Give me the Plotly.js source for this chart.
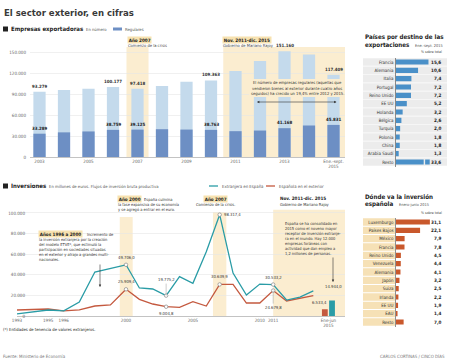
<!DOCTYPE html>
<html><head><meta charset="utf-8">
<script src="https://cdn.plot.ly/plotly-3.0.1.min.js"></script>
<style>html,body{margin:0;padding:0;background:#fff}#c{width:450px;height:363px}</style>
</head><body><div id="c"></div>
<script>
// ---------- Empresas exportadoras ----------
const empYears = ['2003','2004','2005','2006','2007','2008','2009','2010','2011','2012','2013','2014','Ene.-sept. 2015'];
const empTickText = ['2003','','2005','','2007','','2009','','2011','','2013','','Ene.-sept.<br>2015'];
const empTotal = [93279, 95700, 97600, 100177, 97418, 101400, 107400, 109363, 122700, 137000, 151160, 146400, 117409];
const empRegulares = [33289, 35200, 36500, 38759, 39125, 39700, 39200, 38763, 36900, 37800, 41168, 45000, 45831];
const empLabelIdx = [0, 3, 4, 7, 10, 12];

// ---------- Países por destino de las exportaciones ----------
const expCountries = ['Francia','Alemania','Italia','Portugal','Reino Unido','EE UU','Holanda','Bélgica','Turquía','Polonia','China','Arabia Saudí','Resto'];
const expShare = [15.6, 10.6, 7.4, 7.2, 7.2, 5.2, 3.2, 2.6, 2.0, 1.8, 1.8, 1.3, 33.6];
const expCap = 16.2;

// ---------- Dónde va la inversión española ----------
const invCountries = ['Luxemburgo','Países Bajos','México','Francia','Reino Unido','Venezuela','Alemania','Japón','Suiza','Irlanda','EE UU','EAU','Resto'];
const invShare = [31.1, 22.1, 7.9, 7.8, 4.5, 4.4, 4.1, 3.2, 2.5, 2.2, 1.9, 1.4, 7.0];

// ---------- Inversiones (millones de euros) ----------
const invYears = [1993,1994,1995,1996,1997,1998,1999,2000,2001,2002,2003,2004,2005,2006,2007,2008,2009,2010,2011,2012,2013,2014];
const extranjera = [2000, 3900, 5800, 5000, 13600, 42700, 46500, 49706.0, 27200, 26200, 19775.2, 38200, 31700, 62400, 98317.4, 41700, 20400, 31000, 30533.2, 15500, 18400, 24300];
const espanola   = [5800, 6300, 6800, 5000, 6000, 9700, 10700, 25909.4, 16200, 11650, 9004.8, 8400, 13900, 9700, 30639.9, 30600, 12600, 12600, 24679.8, 14600, 17400, 19800];
const invLabelYears = [2000, 2003, 2007, 2011];
const lastPeriod = 'Ene-jun 2015';
const lastExtranjera = 14944.0;
const lastEspanola = 6533.4;

// ---------- helpers ----------
const W = 450, H = 363;
const X = p => p / W, Y = p => 1 - p / H;
const FN = '"Liberation Sans Narrow","DejaVu Sans Condensed","Roboto Condensed","Arial Narrow",Arial,sans-serif';
const TEAL = '#2a9ca6', RED = '#c4593f', BEIGE = '#fbedd0';
const fmt = (v, dec) => {
  let s = dec ? v.toFixed(dec) : String(Math.round(v));
  let parts = s.split('.');
  let i = parts[0].replace(/\B(?=(\d{3})+(?!\d))/g, '.');
  return parts[1] ? i + ',' + parts[1] : i;
};
const ann = [], shp = [];
function T(text, x, y, o) {
  o = o || {};
  const a = {text: text, x: X(x), y: Y(y), xref: 'paper', yref: 'paper', xanchor: o.xa || 'left', yanchor: 'middle',
    showarrow: false, borderpad: 0, font: {family: FN, size: o.size || 4.3, color: o.color || '#333'}};
  if (o.bg) { a.bgcolor = o.bg; a.borderpad = 0.7; }
  ann.push(a);
}
function rect(x0, y0, x1, y1, fill, layer) {
  shp.push({type: 'rect', xref: 'paper', yref: 'paper', x0: X(x0), x1: X(x1), y0: Y(y1), y1: Y(y0),
    fillcolor: fill, line: {width: 0}, layer: layer || 'below'});
}

// ---------- titles ----------
T('<b>El sector exterior, en cifras</b>', 3, 12, {size: 9.5, color: '#3a3a3a'});
rect(3, 26.5, 8, 31.5, '#222', 'above');
T('<b>Empresas exportadoras</b>', 10, 29, {size: 6.0, color: '#222'});
T('En número', 85, 29.3, {size: 4.2, color: '#555'});
rect(113, 27.5, 122, 30.5, '#6d8fc4', 'above');
T('Regulares', 124, 29.3, {size: 4.2, color: '#555'});

rect(3, 183.5, 8, 188.5, '#222', 'above');
T('<b>Inversiones</b>', 10, 186, {size: 6.0, color: '#222'});
T('En millones de euros. Flujos de inversión bruta productiva', 48, 186.3, {size: 4.2, color: '#555'});
shp.push({type: 'line', xref: 'paper', yref: 'paper', x0: X(209), x1: X(218), y0: Y(186), y1: Y(186), line: {color: TEAL, width: 1.3}});
T('Extranjera en España', 221, 186.3, {size: 4.3, color: '#555'});
shp.push({type: 'line', xref: 'paper', yref: 'paper', x0: X(266), x1: X(275), y0: Y(186), y1: Y(186), line: {color: RED, width: 1.3}});
T('Española en el exterior', 278, 186.3, {size: 4.3, color: '#555'});

T('(*) Entidades de tenencia de valores extranjeros.', 2, 329, {size: 4.2, color: '#222'});
T('Fuente: Ministerio de Economía', 2, 356, {size: 4.4, color: '#777'});
T('CARLOS CORTINAS / CINCO DÍAS', 446, 356, {size: 4.4, color: '#777', xa: 'right'});

// ---------- top chart bands & notes ----------
shp.push({type: 'rect', xref: 'x', yref: 'y', x0: 3.55, x1: 4.45, y0: 0, y1: 157000, fillcolor: BEIGE, line: {width: 0}, layer: 'below'});
shp.push({type: 'rect', xref: 'x', yref: 'y', x0: 7.5, x1: 12.6, y0: 0, y1: 157000, fillcolor: BEIGE, line: {width: 0}, layer: 'below'});
T('<b>Año 2007</b>', 127, 39.5, {size: 4.6, bg: '#f7e2b0', color: '#222'});
T('Comienzo de la crisis', 127, 45, {size: 4.1, color: '#444'});
T('<b>Nov. 2011-dic. 2015</b>', 222, 39.5, {size: 4.6, bg: '#f7e2b0', color: '#222'});
T('Gobierno de Mariano Rajoy', 222, 45, {size: 4.1, color: '#444'});
rect(249, 79, 345, 97, BEIGE, 'above');
T('El número de empresas regulares (aquellas que', 297, 83, {size: 4.1, xa: 'center'});
T('vendieron bienes al exterior durante cuatro años', 297, 88, {size: 4.1, xa: 'center'});
T('seguidos) ha crecido un 19,4% entre 2012 y 2015.', 297, 93, {size: 4.1, xa: 'center'});
ann.push({text: '', x: X(257), y: Y(102), xref: 'paper', yref: 'paper', ax: 81, ay: 0, axref: 'pixel', ayref: 'pixel',
  showarrow: true, arrowhead: 2, arrowside: 'end+start', arrowsize: 0.8, arrowwidth: 0.6, arrowcolor: '#333'});

// bar value labels (x given as category index)
empLabelIdx.forEach(i => {
  ann.push({text: '<b>' + fmt(empTotal[i]) + '</b>', x: i, y: empTotal[i], xref: 'x', yref: 'y', yanchor: 'bottom', yshift: 1,
    showarrow: false, font: {family: FN, size: 4.4, color: '#333'}});
  ann.push({text: '<b>' + fmt(empRegulares[i]) + '</b>', x: i, y: empRegulares[i], xref: 'x', yref: 'y', yanchor: 'bottom', yshift: 1,
    showarrow: false, font: {family: FN, size: 4.4, color: '#222'}});
});

// ---------- right panel 1 ----------
T('<b>Países por destino de las</b>', 364, 37, {size: 6.2, color: '#222'});
T('<b>exportaciones</b>', 364, 45, {size: 6.2, color: '#222'});
T('Ene.-sept. 2015', 414, 45.3, {size: 3.9, color: '#555'});
T('% sobre total', 443, 52, {size: 3.5, color: '#444', xa: 'right'});
expCountries.forEach((c, i) => {
  shp.push({type: 'rect', xref: 'paper', yref: 'y2', x0: X(363), x1: X(447), y0: i - 0.46, y1: i + 0.46, fillcolor: '#ececec', line: {width: 0}, layer: 'below'});
  ann.push({text: '<b>' + fmt(expShare[i], 1) + '</b>', x: X(443), y: c, xref: 'paper', yref: 'y2', xanchor: 'right', yanchor: 'middle',
    showarrow: false, font: {family: FN, size: 4.6, color: '#222'}});
});
const expDisplay = expShare.map(v => Math.min(v, expCap));
expShare.forEach((v, i) => {
  if (v > expCap) shp.push({type: 'rect', xref: 'x2', yref: 'y2', x0: expCap - 2.9, x1: expCap - 2.2, y0: i - 0.4, y1: i + 0.4, fillcolor: '#ececec', line: {width: 0}, layer: 'above'});
});

// ---------- right panel 2 ----------
T('<b>Dónde va la inversión</b>', 364, 196, {size: 6.2, color: '#222'});
T('<b>española</b>', 364, 204, {size: 6.2, color: '#222'});
T('Enero-junio 2015', 398, 204.3, {size: 3.9, color: '#555'});
T('% sobre total', 443, 212.5, {size: 3.5, color: '#444', xa: 'right'});
invCountries.forEach((c, i) => {
  shp.push({type: 'rect', xref: 'paper', yref: 'y3', x0: X(363), x1: X(395), y0: i - 0.44, y1: i + 0.44, fillcolor: '#f6e1b6', line: {width: 0}, layer: 'below'});
  ann.push({text: '<b>' + fmt(invShare[i], 1) + '</b>', x: X(443), y: c, xref: 'paper', yref: 'y3', xanchor: 'right', yanchor: 'middle',
    showarrow: false, font: {family: FN, size: 4.6, color: '#222'}});
});

// ---------- line chart bands & notes ----------
shp.push({type: 'rect', xref: 'x4', yref: 'y4', x0: 1999.6, x1: 2000, y0: 0, y1: 96000, fillcolor: BEIGE, line: {width: 0}, layer: 'below'});
shp.push({type: 'rect', xref: 'x5', yref: 'y4', x0: 2000, x1: 2000.5, y0: 0, y1: 96000, fillcolor: BEIGE, line: {width: 0}, layer: 'below'});
shp.push({type: 'rect', xref: 'x5', yref: 'y4', x0: 2006.5, x1: 2007.5, y0: 0, y1: 101000, fillcolor: BEIGE, line: {width: 0}, layer: 'below'});
shp.push({type: 'rect', xref: 'x5', yref: 'y4', x0: 2011, x1: 2016.4, y0: 0, y1: 103000, fillcolor: BEIGE, line: {width: 0}, layer: 'below'});
shp.push({type: 'rect', xref: 'x6', yref: 'y4', x0: -1, x1: 1.3, y0: 0, y1: 103000, fillcolor: BEIGE, line: {width: 0}, layer: 'below'});

T('<b>Año 2000</b>', 117, 199, {size: 4.6, bg: '#f7e2b0', color: '#222'});
T('España culmina', 143, 199.3, {size: 4.0});
T('la fase expansiva de su economía', 117, 204, {size: 4.0});
T('y se agregó a entrar en el euro.', 117, 209, {size: 4.0});
T('<b>Año 2007</b>', 215, 199, {size: 4.6, bg: '#f7e2b0', color: '#222', xa: 'center'});
T('Comienzo de la crisis.', 215, 204.5, {size: 4.0, xa: 'center'});
T('<b>Nov. 2011-dic. 2015</b>', 279, 198.5, {size: 4.6, color: '#222'});
T('Gobierno de Mariano Rajoy', 279, 204, {size: 4.0});

T('<b>Años 1996 a 2000</b>', 38, 234, {size: 4.6, bg: '#f7e2b0', color: '#222'});
T('Incremento de', 86, 234.3, {size: 4.0});
['la inversión extranjera por la creación', 'del modelo ETVE*, que estimuló la', 'participación en sociedades situadas',
 'en el exterior y atrajo a grandes multi-', 'nacionales.'].forEach((s, k) => T(s, 38, 239 + 5 * k, {size: 4.0}));
ann.push({text: '', x: X(100), y: Y(287), xref: 'paper', yref: 'paper', ax: 0, ay: -24, axref: 'pixel', ayref: 'pixel',
  showarrow: true, arrowhead: 2, arrowsize: 0.8, arrowwidth: 0.6, arrowcolor: '#333'});

['España se ha consolidado en', '2015 como el noveno mayor', 'receptor de inversión extranje-', 'ra en el mundo. Hay 12.000',
 'empresas foráneas con', 'actividad que dan empleo a', '1,2 millones de personas.'].forEach((s, k) => T(s, 284, 223 + 5 * k, {size: 4.0}));
ann.push({text: '', x: X(333), y: Y(282), xref: 'paper', yref: 'paper', ax: 0, ay: -26, axref: 'pixel', ayref: 'pixel',
  showarrow: true, arrowhead: 2, arrowsize: 0.8, arrowwidth: 0.6, arrowcolor: '#333'});

// line-point labels
const lblFont = {family: FN, size: 4.2, color: '#333'};
const getV = (arr, yr) => arr[invYears.indexOf(yr)];
ann.push({text: fmt(getV(extranjera, 2000), 1), x: 2000, y: getV(extranjera, 2000), xref: 'x5', yref: 'y4', yanchor: 'bottom', yshift: 3, showarrow: false, font: lblFont});
ann.push({text: fmt(getV(espanola, 2000), 1), x: 2000, y: getV(espanola, 2000), xref: 'x5', yref: 'y4', yanchor: 'bottom', yshift: 3, showarrow: false, font: lblFont});
ann.push({text: fmt(getV(extranjera, 2003), 1), x: 2003, y: getV(extranjera, 2003), xref: 'x5', yref: 'y4', ax: 0, ay: -16, showarrow: true, arrowhead: 0, arrowwidth: 0.5, arrowcolor: '#999', font: lblFont});
ann.push({text: fmt(getV(espanola, 2003), 1), x: 2003, y: getV(espanola, 2003), xref: 'x5', yref: 'y4', yanchor: 'top', yshift: -2, showarrow: false, font: lblFont});
ann.push({text: fmt(getV(extranjera, 2007), 1), x: 2007, y: getV(extranjera, 2007), xref: 'x5', yref: 'y4', xanchor: 'left', xshift: 2, yanchor: 'middle', showarrow: false, font: lblFont});
ann.push({text: fmt(getV(espanola, 2007), 1), x: 2007, y: getV(espanola, 2007), xref: 'x5', yref: 'y4', yanchor: 'bottom', yshift: 3, showarrow: false, font: lblFont});
ann.push({text: fmt(getV(extranjera, 2011), 1), x: 2011, y: getV(extranjera, 2011), xref: 'x5', yref: 'y4', yanchor: 'bottom', yshift: 3, showarrow: false, font: lblFont});
ann.push({text: fmt(getV(espanola, 2011), 1), x: 2011, y: getV(espanola, 2011), xref: 'x5', yref: 'y4', ax: 0, ay: 17, showarrow: true, arrowhead: 0, arrowwidth: 0.5, arrowcolor: '#999', font: lblFont});

// ---------- traces ----------
const early = invYears.map((y, i) => i).filter(i => invYears[i] <= 2000);
const late = invYears.map((y, i) => i).filter(i => invYears[i] >= 2000);
const pick = (arr, idx) => idx.map(i => arr[i]);
const lineTrace = (xs, ys, xa, col) => ({type: 'scatter', mode: 'lines', x: xs, y: ys, xaxis: xa, yaxis: 'y4',
  line: {color: col, width: 1.3}, hoverinfo: 'skip', cliponaxis: false});

const data = [
  {type: 'bar', x: empYears, y: empTotal, marker: {color: '#c4daec'}, width: 0.5, xaxis: 'x', yaxis: 'y', hoverinfo: 'skip'},
  {type: 'bar', x: empYears, y: empRegulares, marker: {color: '#6d8fc4'}, width: 0.5, xaxis: 'x', yaxis: 'y', hoverinfo: 'skip'},
  {type: 'bar', orientation: 'h', x: expDisplay, y: expCountries, marker: {color: '#4a90c8'}, width: 0.62, xaxis: 'x2', yaxis: 'y2', hoverinfo: 'skip'},
  {type: 'bar', orientation: 'h', x: invShare, y: invCountries, marker: {color: '#c9582c'}, width: 0.62, xaxis: 'x3', yaxis: 'y3', hoverinfo: 'skip'},
  lineTrace(pick(invYears, early), pick(espanola, early), 'x4', RED),
  lineTrace(pick(invYears, late), pick(espanola, late), 'x5', RED),
  lineTrace(pick(invYears, early), pick(extranjera, early), 'x4', TEAL),
  lineTrace(pick(invYears, late), pick(extranjera, late), 'x5', TEAL),
  {type: 'bar', x: [lastPeriod], y: [lastEspanola], xaxis: 'x6', yaxis: 'y4', width: 0.42, offset: -0.47, marker: {color: RED}, hoverinfo: 'skip'},
  {type: 'bar', x: [lastPeriod], y: [lastExtranjera], xaxis: 'x6', yaxis: 'y4', width: 0.42, offset: 0.05, marker: {color: TEAL}, hoverinfo: 'skip'},
  {type: 'scatter', mode: 'markers', x: invLabelYears, y: invLabelYears.map(y => getV(extranjera, y)), xaxis: 'x5', yaxis: 'y4', cliponaxis: false,
    marker: {size: 3.5, color: '#fff', line: {color: '#888', width: 0.7}}, hoverinfo: 'skip'},
  {type: 'scatter', mode: 'markers', x: invLabelYears, y: invLabelYears.map(y => getV(espanola, y)), xaxis: 'x5', yaxis: 'y4', cliponaxis: false,
    marker: {size: 3.5, color: '#fff', line: {color: '#888', width: 0.7}}, hoverinfo: 'skip'}
];
ann.push({text: fmt(lastExtranjera, 1), x: lastPeriod, y: lastExtranjera, xref: 'x6', yref: 'y4', xshift: 5, yanchor: 'bottom', yshift: 10, showarrow: false, font: lblFont});
ann.push({text: fmt(lastEspanola, 1), x: lastPeriod, y: lastEspanola, xref: 'x6', yref: 'y4', xanchor: 'right', xshift: 1, yanchor: 'bottom', yshift: 2, showarrow: false, font: lblFont});

const tickF = {family: FN, size: 4.5, color: '#666'};
const layout = {
  width: W, height: H, margin: {l: 0, r: 0, t: 0, b: 0}, paper_bgcolor: '#fff', plot_bgcolor: 'rgba(0,0,0,0)',
  showlegend: false, barmode: 'overlay', separators: ',.', font: {family: FN, size: 5, color: '#444'},
  xaxis: {domain: [X(30), X(345)], anchor: 'y', type: 'category', range: [-0.388, 12.469], tickmode: 'array', tickvals: empYears, ticktext: empTickText,
    tickfont: tickF, showgrid: false, zeroline: false, ticks: '', fixedrange: true},
  yaxis: {domain: [Y(157), Y(38)], anchor: 'x', range: [0, 170000], tickvals: [0, 30000, 60000, 90000, 120000, 150000], tickformat: ',d',
    tickfont: tickF, gridcolor: '#e6e6e6', gridwidth: 0.6, zeroline: true, zerolinecolor: '#aaa', zerolinewidth: 0.7, ticks: '', ticklabelstandoff: 3},
  xaxis2: {domain: [X(396), X(447)], anchor: 'y2', range: [0, 24.5], visible: false},
  yaxis2: {domain: [Y(166.5), Y(57.5)], anchor: 'x2', type: 'category', autorange: 'reversed', tickfont: {family: FN, size: 4.5, color: '#333'},
    showgrid: false, zeroline: false, showline: true, linecolor: '#444', linewidth: 0.6, ticks: '', ticklabelstandoff: 1},
  xaxis3: {domain: [X(396), X(447)], anchor: 'y3', range: [0, 46.8], visible: false},
  yaxis3: {domain: [Y(326.5), Y(217.5)], anchor: 'x3', type: 'category', autorange: 'reversed', tickfont: {family: FN, size: 4.5, color: '#333'},
    showgrid: false, zeroline: false, showline: true, linecolor: '#444', linewidth: 0.6, ticks: '', ticklabelstandoff: 1},
  xaxis4: {domain: [X(17), X(126)], anchor: 'y4', range: [1993, 2000], tickmode: 'array', tickvals: [1993, 1995, 1996], tickfont: tickF,
    showgrid: false, zeroline: false, ticks: ''},
  xaxis5: {domain: [X(126), X(316)], anchor: 'y4', range: [2000, 2014.2], tickmode: 'array', tickvals: [2000, 2005, 2010, 2011], tickfont: tickF,
    showgrid: false, zeroline: false, ticks: ''},
  xaxis6: {domain: [X(316), X(345)], anchor: 'y4', type: 'category', range: [-0.9, 1.2], tickmode: 'array', tickvals: [lastPeriod], ticktext: ['Ene-jun<br>2015'],
    tickfont: tickF, showgrid: false, zeroline: false, ticks: ''},
  yaxis4: {domain: [Y(316), Y(200.6)], anchor: 'free', position: X(28), range: [0, 112000], tickvals: [0, 20000, 40000, 60000, 80000, 100000], tickformat: ',d',
    tickfont: tickF, gridcolor: '#e6e6e6', gridwidth: 0.6, zeroline: true, zerolinecolor: '#aaa', zerolinewidth: 0.7, ticks: '', ticklabelstandoff: 3},
  annotations: ann, shapes: shp
};
Plotly.newPlot('c', data, layout, {staticPlot: true, displayModeBar: false});
</script></body></html>
